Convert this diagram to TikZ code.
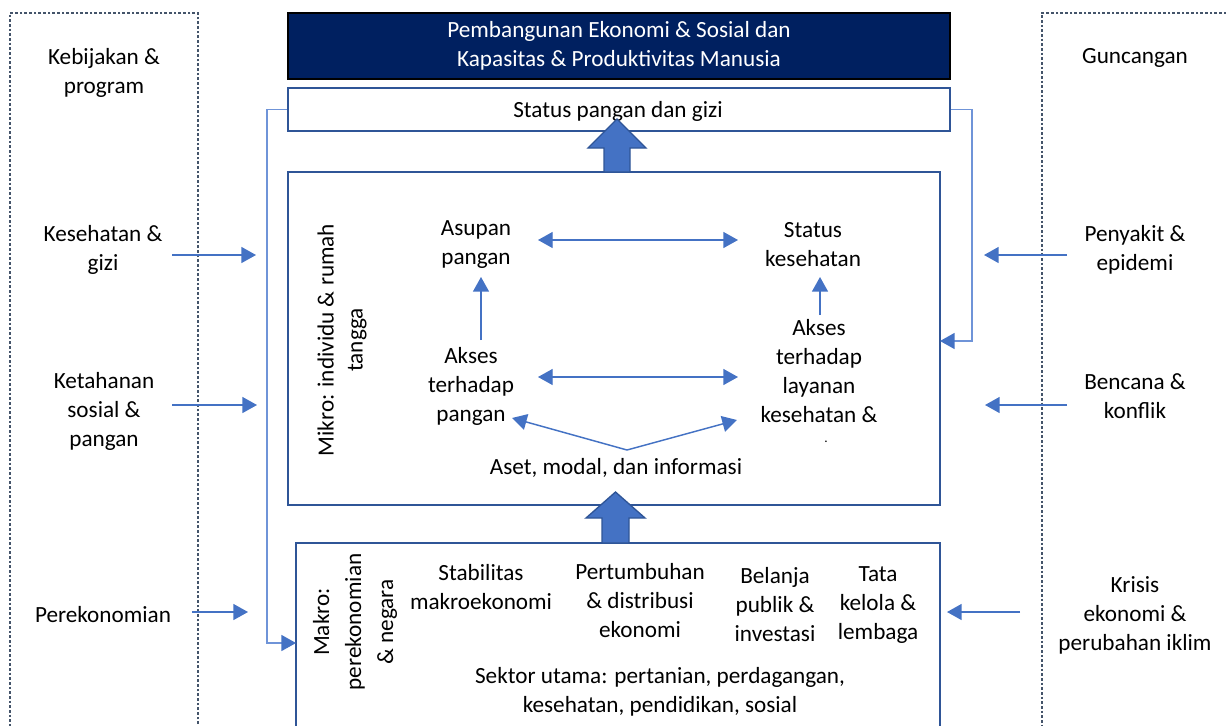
\documentclass[tikz,border=0pt]{standalone}
\usepackage{fontspec}
\setmainfont{Carlito}
\usetikzlibrary{arrows.meta,fit,calc}
\definecolor{navy}{HTML}{002060}
\definecolor{obl}{HTML}{4472C4}
\definecolor{lbl}{HTML}{6F94D8}
\definecolor{dbl}{HTML}{2F5597}
\definecolor{dsh}{HTML}{44546A}
\begin{document}
\begin{tikzpicture}[x=0.75pt,y=-0.75pt,
 txt/.style={align=center,font=\fontsize{17.4}{21.75}\selectfont,inner sep=0},
 conn/.style={obl,line width=1.1pt,-{Triangle[length=11pt,width=12pt]}},
 dconn/.style={obl,line width=1pt,{Triangle[length=11pt,width=12pt]}-{Triangle[length=11pt,width=12pt]}},
 fbline/.style={draw=lbl,line width=1.2pt,-{Triangle[length=11pt,width=12pt,color=obl,fill=obl]}},
 box/.style={draw=dbl,line width=1.6pt,inner sep=0,fill=white},
 dashbox/.style={draw=dsh,line width=0.8pt,dash pattern=on 2pt off 1.5pt,inner sep=0},
 block/.style={fill=obl,draw=dbl,line width=1pt}]
\useasboundingbox (0,0) rectangle (1226,725);
\clip (0,0) rectangle (1226,725);
\fill[white] (0,0) rectangle (1226,725);

% side dashed boxes
\node[dashbox, fit={(10,13) (198,760)}] (policy) {};
\node[dashbox, fit={(1042,13) (1260,760)}] (shock) {};

% main boxes
\node[fill=navy, draw=black, line width=1pt, inner sep=0, fit={(288,13) (950,79)}] (goal) {};
\node[txt, text=white] at (goal.center) (goaltxt) {Pembangunan Ekonomi \& Sosial dan\\Kapasitas \& Produktivitas Manusia};
\node[box, line width=1.2pt, fit={(288,88) (950,131)}] (status) {};
\node[txt] at (618,111) (statustxt) {Status pangan dan gizi};
\node[box, fit={(288,172) (940,505)}] (micro) {};
\node[box, fit={(296,543) (940,760)}] (macro) {};

% feedback connectors
\coordinate (mL) at (296,643);
\coordinate (mR) at (940,341);
\draw[fbline] (status.west) -- ++(-20,0) |- (mL);
\draw[fbline] (status.east) -- ++(21,0) |- (mR);

% block arrows
\draw[block] (604,172) -- (604,148) -- (588,148) -- (617,119) -- (646,148) -- (630,148) -- (630,172) -- cycle;
\draw[block] (602,543) -- (602,518) -- (586,518) -- (615.5,492) -- (645,518) -- (629,518) -- (629,543) -- cycle;

% left texts
\node[txt] at (104,73) (kp) {Kebijakan \&\\program};
\node[txt] at (103,250) (kg) {Kesehatan \&\\gizi};
\node[txt] at (104,411) (ksp) {Ketahanan\\sosial \&\\pangan};
\node[txt] at (103,615) (pe) {Perekonomian};
% right texts
\node[txt] at (1135,58) (gu) {Guncangan};
\node[txt] at (1135,250) (pen) {Penyakit \&\\epidemi};
\node[txt] at (1135,396) (ben) {Bencana \&\\konflik};
\node[txt] at (1135,615) (kri) {Krisis\\ekonomi \&\\perubahan iklim};

% side arrows
\coordinate (a1s) at (172,255); \coordinate (a1e) at (256,255);
\coordinate (a2s) at (172,405); \coordinate (a2e) at (257,405);
\coordinate (a3s) at (192,612); \coordinate (a3e) at (248,612);
\coordinate (b1s) at (1067,255); \coordinate (b1e) at (984,255);
\coordinate (b2s) at (1067,405); \coordinate (b2e) at (985,405);
\coordinate (b3s) at (1020,612); \coordinate (b3e) at (947,612);
\draw[conn] (a1s) -- (a1e);
\draw[conn] (a2s) -- (a2e);
\draw[conn] (a3s) -- (a3e);
\draw[conn] (b1s) -- (b1e);
\draw[conn] (b2s) -- (b2e);
\draw[conn] (b3s) -- (b3e);

% micro content
\node[txt, rotate=90] at (342,340) (mikro) {Mikro: individu \& rumah\\tangga};
\node[txt] at (476,245) (asupan) {Asupan\\pangan};
\node[txt] at (813,245) (stkes) {Status\\kesehatan};
\node[txt] at (471,386) (akp) {Akses\\terhadap\\pangan};
\node[txt] at (819,371.5) (akl) {Akses\\terhadap\\layanan\\kesehatan \&};
\node[txt, font=\fontsize{10}{12}\selectfont] at (826,442) (dot) {.};
\node[txt] at (616,468) (aset) {Aset, modal, dan informasi};
\draw[dconn] (538,240) -- (738,240);
\draw[dconn] (538,377) -- (738,377);
\draw[conn] (481,340) -- (481,277);
\draw[conn] (820,315) -- (820,277);
\draw[conn] (627,450) -- (512,418);
\draw[conn] (627,450) -- (737,420);

% macro content
\node[txt, rotate=90, font=\fontsize{17.4}{24}\selectfont] at (355,622) (makro) {Makro:\\perekonomian\\\& negara};
\node[txt] at (481,587) (stab) {Stabilitas\\makroekonomi};
\node[txt] at (640,601) (pert) {Pertumbuhan\\\& distribusi\\ekonomi};
\node[txt] at (775,605) (bel) {Belanja\\publik \&\\investasi};
\node[txt] at (878,605) (tata) {Tata\\kelola \&\\lembaga};
\node[txt] at (660,692) (sek) {Sektor utama: pertanian, perdagangan,\\kesehatan, pendidikan, sosial};
\end{tikzpicture}
\end{document}
